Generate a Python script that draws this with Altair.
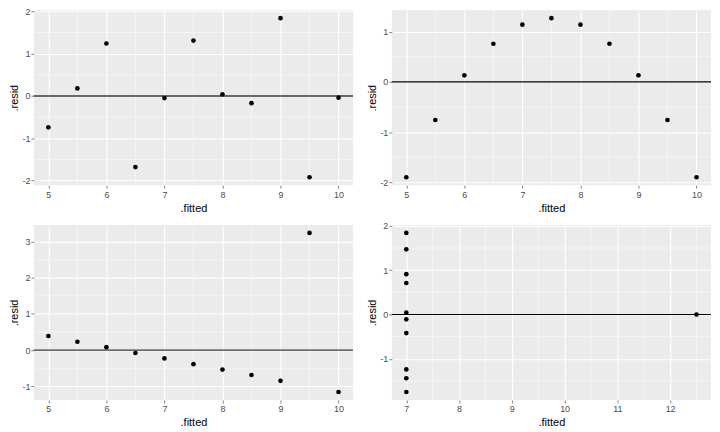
import altair as alt
import pandas as pd

# ---- data (Anscombe residuals vs fitted) ----
fitted_1 = [8, 7, 9.5, 7.5, 8.5, 10, 6, 5, 9, 6.5, 5.5]
resid_1 = [0.04, -0.05, -1.92, 1.31, -0.17, -0.04, 1.24, -0.74, 1.84, -1.68, 0.18]
fitted_2 = [8, 7, 9.5, 7.5, 8.5, 10, 6, 5, 9, 6.5, 5.5]
resid_2 = [1.14, 1.14, -0.76, 1.27, 0.76, -1.90, 0.13, -1.90, 0.13, 0.76, -0.76]
fitted_3 = [8, 7, 9.5, 7.5, 8.5, 10, 6, 5, 9, 6.5, 5.5]
resid_3 = [-0.54, -0.23, 3.24, -0.39, -0.69, -1.16, 0.08, 0.39, -0.85, -0.08, 0.23]
fitted_4 = [7, 7, 7, 7, 7, 7, 7, 12.5, 7, 7, 7]
resid_4 = [-0.42, -1.24, 0.71, 1.84, 1.47, 0.04, -1.75, 0.0, -1.44, 0.91, -0.11]

x_ticks_a = [5, 6, 7, 8, 9, 10]
x_ticks_b = [7, 8, 9, 10, 11, 12]
y_ticks_1 = [-2, -1, 0, 1, 2]
y_ticks_2 = [-2, -1, 0, 1]
y_ticks_3 = [-1, 0, 1, 2, 3]
y_ticks_4 = [-1, 0, 1, 2]

W, H = 321, 176
FONT = "Liberation Sans"


def expand(vals):
    lo, hi = min(vals), max(vals)
    r = hi - lo
    return [lo - 0.05 * r, hi + 0.05 * r]


def minors(ticks, dom):
    out = []
    for a, b in zip(ticks[:-1], ticks[1:]):
        out.append((a + b) / 2)
    step = ticks[1] - ticks[0]
    lo = ticks[0] - step / 2
    hi = ticks[-1] + step / 2
    if dom[0] <= lo <= dom[1]:
        out.append(lo)
    if dom[0] <= hi <= dom[1]:
        out.append(hi)
    return out


def panel(fx, ry, xt, yt, line_color, line_w):
    df = pd.DataFrame({"fitted": fx, "resid": ry})
    xd = expand(fx)
    yd = expand(ry)
    xs = alt.Scale(domain=xd, nice=False, zero=False)
    ys = alt.Scale(domain=yd, nice=False, zero=False)
    xaxis = alt.Axis(values=xt, title=".fitted", labelExpr="'' + datum.value",
                     labelPadding=2, titlePadding=3)
    yaxis = alt.Axis(values=yt, title=".resid", labelExpr="'' + datum.value",
                     labelPadding=1, titlePadding=2)

    xm = pd.DataFrame({"v": minors(xt, xd)})
    ym = pd.DataFrame({"v": minors(yt, yd)})
    vminor = alt.Chart(xm).mark_rule(color="white", strokeWidth=0.5).encode(
        x=alt.X("v:Q", scale=xs, axis=xaxis))
    hminor = alt.Chart(ym).mark_rule(color="white", strokeWidth=0.5).encode(
        y=alt.Y("v:Q", scale=ys, axis=yaxis))
    zero = alt.Chart(pd.DataFrame({"z": [0]})).mark_rule(
        color=line_color, strokeWidth=line_w).encode(y=alt.Y("z:Q", scale=ys, axis=yaxis))
    pts = alt.Chart(df).mark_circle(size=22, color="black", opacity=1).encode(
        x=alt.X("fitted:Q", scale=xs, axis=xaxis),
        y=alt.Y("resid:Q", scale=ys, axis=yaxis))
    return alt.layer(vminor, hminor, zero, pts).properties(width=W, height=H)


p1 = panel(fitted_1, resid_1, x_ticks_a, y_ticks_1, "#3a3a3a", 1.3)
p2 = panel(fitted_2, resid_2, x_ticks_a, y_ticks_2, "black", 1.1)
p3 = panel(fitted_3, resid_3, x_ticks_a, y_ticks_3, "#3a3a3a", 1.3)
p4 = panel(fitted_4, resid_4, x_ticks_b, y_ticks_4, "black", 1.1)

chart = alt.vconcat(
    alt.hconcat(p1, p2, spacing=12),
    alt.hconcat(p3, p4, spacing=12),
    spacing=8,
).properties(padding={"left": 0, "top": -2, "right": 0, "bottom": 0}
).configure_view(fill="#EBEBEB", stroke=None
).configure_axis(
    grid=True, gridColor="white", gridWidth=1.1, domain=False,
    tickColor="#333333", tickSize=3, tickWidth=0.6,
    labelColor="#4D4D4D", labelFont=FONT, labelFontSize=9,
    titleFont=FONT, titleFontSize=11, titleFontWeight="normal", titleColor="black",
).configure_axisY(labelBaseline="middle")

chart.save("out.html", embed_options={"renderer": "svg", "actions": False})
